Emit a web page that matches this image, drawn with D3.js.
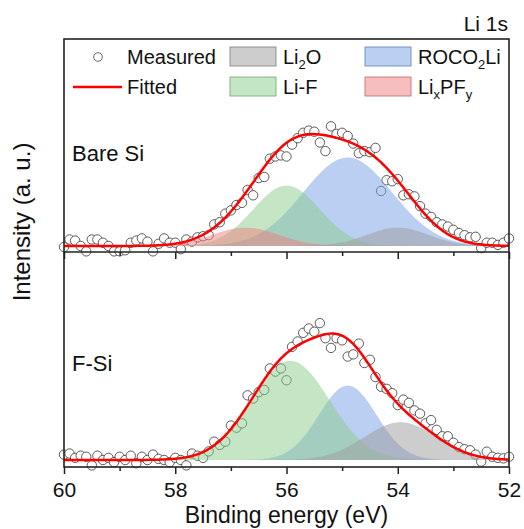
<!DOCTYPE html>
<meta charset="utf-8">
<script src="https://d3js.org/d3.v7.min.js"></script>
<style>
  body { margin: 0; background: #fff; }
  text { font-family: Arial, "Liberation Sans", sans-serif; fill: #111; }
</style>
<div id="my_dataviz"></div>
<script>

// binding energy of the measured points (eV)
var energy = [60.0,59.9,59.8,59.7,59.6,59.5,59.4,59.3,59.2,59.1,
              59.0,58.9,58.8,58.7,58.6,58.5,58.4,58.3,58.2,58.1,
              58.0,57.9,57.8,57.7,57.6,57.5,57.4,57.3,57.2,57.1,
              57.0,56.9,56.8,56.7,56.6,56.5,56.4,56.3,56.2,56.1,
              56.0,55.9,55.8,55.7,55.6,55.5,55.4,55.3,55.2,55.1,
              55.0,54.9,54.8,54.7,54.6,54.5,54.4,54.3,54.2,54.1,
              54.0,53.9,53.8,53.7,53.6,53.5,53.4,53.3,53.2,53.1,
              53.0,52.9,52.8,52.7,52.6,52.5,52.4,52.3,52.2,52.1,
              52.0]

// measured intensity (a. u.), Bare Si
var bareMeasured = [-0.01,0.06,0.05,0.00,-0.05,0.06,0.06,0.03,0.00,-0.05,
                    -0.05,-0.04,0.03,0.05,0.07,0.04,-0.05,0.02,0.07,0.03,
                    0.03,-0.03,0.06,0.04,0.08,0.09,0.10,0.20,0.22,0.30,
                    0.33,0.38,0.40,0.52,0.47,0.63,0.64,0.81,0.83,0.84,
                    0.83,0.94,1.00,1.05,1.07,1.06,0.96,0.88,1.11,1.04,
                    1.05,1.02,0.95,0.86,0.88,0.87,0.91,0.51,0.61,0.60,
                    0.62,0.47,0.48,0.46,0.37,0.30,0.27,0.22,0.20,0.18,
                    0.15,0.12,0.10,0.08,0.085,-0.02,0.03,0.03,0.01,0.03,
                    0.07]

// measured intensity (a. u.), F-Si
var fsiMeasured = [0.05,0.06,0.02,0.04,0.03,-0.05,0.04,0.00,0.02,-0.02,
                   0.03,0.00,0.04,-0.03,0.03,0.00,0.05,0.01,0.00,-0.02,
                   0.02,0.00,-0.05,0.06,0.04,0.02,0.08,0.17,0.14,0.17,
                   0.32,0.30,0.34,0.60,0.57,0.63,0.65,0.85,0.82,0.85,
                   0.74,1.05,1.10,1.18,1.22,1.19,1.27,1.13,1.04,1.13,
                   1.11,0.96,0.98,1.08,0.90,0.93,0.77,0.68,0.66,0.62,
                   0.51,0.56,0.53,0.46,0.43,0.34,0.37,0.28,0.22,0.22,
                   0.16,0.12,0.10,0.09,0.05,-0.015,0.077,0.03,0.02,0.015,
                   0.03]

// fitted components (drawing order): centre (eV), height, FWHM (eV)
var peakNames  = ["ROCO2Li", "Li-F", "LixPFy", "Li2O"]
var peakColors = ["#759fe6", "#8cce8c", "#ed7e7e", "#9b9b9b"]
var bareCenter = [54.90, 56.00, 56.74, 54.00]
var bareHeight = [0.82, 0.56, 0.17, 0.17]
var bareFwhm   = [1.88, 1.41, 1.41, 1.30]
var fsiCenter  = [54.90, 55.93, 56.70, 53.95]
var fsiHeight  = [0.69, 0.92, 0.00, 0.35]
var fsiFwhm    = [1.22, 1.65, 1.41, 1.53]

var xTicks = [60, 58, 56, 54, 52]
var xMinor = [59, 57, 55, 53]

var width = 524, height = 529
var margin = {left: 64, right: 509, top: 39, mid: 252, bottom: 467}

var svg = d3.select("#my_dataviz")
  .append("svg")
    .attr("width", width)
    .attr("height", height)

var x = d3.scaleLinear().domain([60, 52]).range([margin.left, margin.right])

var grid = d3.range(60, 51.999, -0.02)
function gauss(v, c, h, w) {
  var s = w / 2.3548
  return h * Math.exp(-(v - c) * (v - c) / (2 * s * s))
}

var panels = [
  {label: "Bare Si", measured: bareMeasured, center: bareCenter, peak: bareHeight, fwhm: bareFwhm,
   y: d3.scaleLinear().domain([-0.056, 1.92]).range([margin.mid, margin.top]), labelY: 161},
  {label: "F-Si", measured: fsiMeasured, center: fsiCenter, peak: fsiHeight, fwhm: fsiFwhm,
   y: d3.scaleLinear().domain([-0.065, 1.93]).range([margin.bottom, margin.mid]), labelY: 371}
]

panels.forEach(function(p) {
  var g = svg.append("g")
  var y = p.y

  // measured points
  g.selectAll("circle")
    .data(energy)
    .enter().append("circle")
      .attr("cx", function(d) { return x(d) })
      .attr("cy", function(d, i) { return y(p.measured[i]) })
      .attr("r", 4.7)
      .attr("fill", "#fff")
      .attr("stroke", "#333")
      .attr("stroke-width", 0.8)

  // component fills
  peakNames.forEach(function(name, k) {
    if (p.peak[k] <= 0) return
    var area = d3.area()
      .x(function(v) { return x(v) })
      .y0(y(0))
      .y1(function(v) { return y(gauss(v, p.center[k], p.peak[k], p.fwhm[k])) })
    g.append("path")
      .datum(grid)
      .attr("d", area)
      .attr("fill", peakColors[k])
      .attr("fill-opacity", 0.5)
  })

  // envelope
  var line = d3.line()
    .x(function(v) { return x(v) })
    .y(function(v) {
      var s = 0
      for (var k = 0; k < peakNames.length; k++) s += gauss(v, p.center[k], p.peak[k], p.fwhm[k])
      return y(s)
    })
  g.append("path")
    .datum(grid)
    .attr("d", line)
    .attr("fill", "none")
    .attr("stroke", "#ff0000")
    .attr("stroke-width", 2.5)

  g.append("text")
    .attr("x", 72)
    .attr("y", p.labelY)
    .style("font-size", "22px")
    .text(p.label)
})

// axes: ticks only, labels on the bottom
function ticks(yPos, values, size, labels) {
  var ax = d3.axisBottom(x).tickValues(values).tickSize(size).tickSizeOuter(0).tickPadding(8)
  if (!labels) ax.tickFormat("")
  else ax.tickFormat(d3.format("d"))
  var a = svg.append("g")
    .attr("transform", "translate(0," + yPos + ")")
    .call(ax)
  a.select(".domain").remove()
  a.selectAll("line").attr("stroke", "#222").attr("stroke-width", 1.5)
  a.selectAll("text").style("font-size", "21px").attr("fill", "#111")
    .style("font-family", "Arial, 'Liberation Sans', sans-serif")
}
ticks(margin.bottom, xTicks, 7, true)
ticks(margin.bottom, xMinor, 4, false)
ticks(margin.mid, xTicks, 7, false)
ticks(margin.mid, xMinor, 4, false)

// frame
svg.append("rect")
  .attr("x", margin.left).attr("y", margin.top)
  .attr("width", margin.right - margin.left).attr("height", margin.bottom - margin.top)
  .attr("fill", "none").attr("stroke", "#222").attr("stroke-width", 1.6)
svg.append("line")
  .attr("x1", margin.left).attr("x2", margin.right).attr("y1", margin.mid).attr("y2", margin.mid)
  .attr("stroke", "#222").attr("stroke-width", 1.6)

// axis titles
svg.append("text")
  .attr("x", (margin.left + margin.right) / 2).attr("y", 523)
  .attr("text-anchor", "middle")
  .style("font-size", "23px")
  .text("Binding energy (eV)")
svg.append("text")
  .attr("transform", "translate(30," + 222 + ") rotate(-90)")
  .attr("text-anchor", "middle")
  .style("font-size", "24px")
  .text("Intensity (a. u.)")
svg.append("text")
  .attr("x", 508).attr("y", 31)
  .attr("text-anchor", "end")
  .style("font-size", "21px")
  .text("Li 1s")

// legend
var leg = svg.append("g")
leg.append("circle").attr("cx", 98).attr("cy", 57).attr("r", 4.3)
  .attr("fill", "#fff").attr("stroke", "#555").attr("stroke-width", 0.9)
leg.append("text").attr("x", 127).attr("y", 64).style("font-size", "20px").text("Measured")
leg.append("line").attr("x1", 73).attr("x2", 122).attr("y1", 87).attr("y2", 87)
  .attr("stroke", "#ff0000").attr("stroke-width", 2.5)
leg.append("text").attr("x", 127).attr("y", 94).style("font-size", "20px").text("Fitted")

var swatches = [
  {k: 3, x: 230, y: 47, main: ["Li", "2", "O"], sub: [false, true, false]},
  {k: 1, x: 230, y: 77, main: ["Li-F"], sub: [false]},
  {k: 0, x: 365, y: 47, main: ["ROCO", "2", "Li"], sub: [false, true, false]},
  {k: 2, x: 365, y: 77, main: ["Li", "x", "PF", "y"], sub: [false, true, false, true]}
]
swatches.forEach(function(s) {
  leg.append("rect")
    .attr("x", s.x).attr("y", s.y).attr("width", 46).attr("height", 19)
    .attr("fill", peakColors[s.k]).attr("fill-opacity", 0.5)
    .attr("stroke", d3.color(peakColors[s.k]).darker(0.6)).attr("stroke-width", 0.8)
  var t = leg.append("text").attr("x", s.x + 53).attr("y", s.y + 17).style("font-size", "20px")
  var shifted = false
  s.main.forEach(function(part, i) {
    var span = t.append("tspan").text(part)
    if (s.sub[i]) { span.attr("dy", 5).style("font-size", "13px"); shifted = true }
    else if (shifted) { span.attr("dy", -5); shifted = false }
  })
})

</script>
